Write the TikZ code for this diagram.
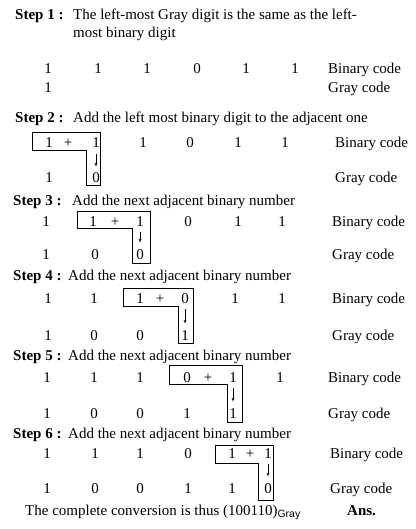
\documentclass[tikz,border=0pt]{standalone}
\usepackage{fontspec}
\setmainfont{Liberation Serif}
\setsansfont{Liberation Sans}
\usetikzlibrary{arrows}
\tikzstyle{dig}  = [inner sep=0pt, anchor=base]
\tikzstyle{txt}  = [inner sep=0pt, anchor=base west]
\tikzstyle{hd}   = [txt, font=\fontsize{15}{18}\selectfont\bfseries]
\tikzstyle{lbox} = [draw, line width=0.7pt]
\tikzstyle{dn}   = [draw, -latex', shorten >=6pt, shorten <=6pt]

\begin{document}
\begin{tikzpicture}[x=1pt, y=-1pt, font=\fontsize{15}{18}\selectfont]
\useasboundingbox (0,0) rectangle (415,529);

% step 1
\node [hd]  at (15,20) (h1)  {Step 1 :};
\node [txt] at (73,20) (t1)  {The left-most Gray digit is the same as the left-};
\node [txt] at (73,38) (t1b) {most binary digit};
\foreach \x/\d [count=\i] in {48/1, 98/1, 147/1, 197/0, 246/1, 295/1}
  \node [dig] at (\x,74) (b1-\i) {\d};
\node [dig] at (48,93) (g1-1) {1};
\node [txt] at (328,74) (bin1)  {Binary code};
\node [txt] at (328,93) (gray1) {Gray code};

% step 2
\node [hd]  at (15,123) (h2) {Step 2 :};
\node [txt] at (73,123) (t2) {Add the left most binary digit to the adjacent one};
\foreach \x/\d [count=\i] in {49/1, 96/1, 143/1, 190/0, 238/1, 285/1}
  \node [dig] at (\x,148) (b2-\i) {\d};
\node [dig] at (68,148) (p2) {+};
\foreach \x/\d [count=\i] in {49/1, 96/0}
  \node [dig] at (\x,183) (g2-\i) {\d};
\node [txt] at (335,148) (bin2)  {Binary code};
\node [txt] at (335,183) (gray2) {Gray code};
\draw [lbox] (32,132) -- (100,132) -- (100,185) -- (86,185) -- (86,150) -- (32,150) -- cycle;
\path [dn] (b2-2) -- (g2-2);

% step 3
\node [hd]  at (13,205) (h3) {Step 3 :};
\node [txt] at (72,205) (t3) {Add the next adjacent binary number};
\foreach \x/\d [count=\i] in {46/1, 93/1, 140/1, 188/0, 238/1, 282/1}
  \node [dig] at (\x,226) (b3-\i) {\d};
\node [dig] at (115,226) (p3) {+};
\foreach \x/\d [count=\i] in {46/1, 95/0, 140/0}
  \node [dig] at (\x,259) (g3-\i) {\d};
\node [txt] at (332,226) (bin3)  {Binary code};
\node [txt] at (332,259) (gray3) {Gray code};
\draw [lbox] (77,211) -- (150,211) -- (150,263) -- (132,263) -- (132,228) -- (77,228) -- cycle;
\path [dn] (b3-3) -- (g3-3);

% step 4
\node [hd]  at (13,280) (h4) {Step 4 :};
\node [txt] at (68,280) (t4) {Add the next adjacent binary number};
\foreach \x/\d [count=\i] in {48/1, 94/1, 140/1, 185/0, 235/1, 282/1}
  \node [dig] at (\x,303) (b4-\i) {\d};
\node [dig] at (160,303) (p4) {+};
\foreach \x/\d [count=\i] in {48/1, 94/0, 140/0, 185/1}
  \node [dig] at (\x,340) (g4-\i) {\d};
\node [txt] at (332,303) (bin4)  {Binary code};
\node [txt] at (332,340) (gray4) {Gray code};
\draw [lbox] (123,288) -- (193,288) -- (193,343) -- (178,343) -- (178,306) -- (123,306) -- cycle;
\path [dn] (b4-4) -- (g4-4);

% step 5
\node [hd]  at (13,360) (h5) {Step 5 :};
\node [txt] at (68,360) (t5) {Add the next adjacent binary number};
\foreach \x/\d [count=\i] in {47/1, 94/1, 140/1, 187/0, 233/1, 280/1}
  \node [dig] at (\x,382) (b5-\i) {\d};
\node [dig] at (208,382) (p5) {+};
\foreach \x/\d [count=\i] in {47/1, 94/0, 140/0, 187/1, 233/1}
  \node [dig] at (\x,418) (g5-\i) {\d};
\node [txt] at (328,382) (bin5)  {Binary code};
\node [txt] at (328,418) (gray5) {Gray code};
\draw [lbox] (169,365) -- (242,365) -- (242,422) -- (227,422) -- (227,384) -- (169,384) -- cycle;
\path [dn] (b5-5) -- (g5-5);

% step 6
\node [hd]  at (13,438) (h6) {Step 6 :};
\node [txt] at (68,438) (t6) {Add the next adjacent binary number};
\foreach \x/\d [count=\i] in {47/1, 95/1, 140/1, 188/0, 232/1, 268/1}
  \node [dig] at (\x,458) (b6-\i) {\d};
\node [dig] at (250,458) (p6) {+};
\foreach \x/\d [count=\i] in {47/1, 95/0, 140/0, 188/1, 232/1, 268/0}
  \node [dig] at (\x,493) (g6-\i) {\d};
\node [txt] at (330,458) (bin6)  {Binary code};
\node [txt] at (330,493) (gray6) {Gray code};
\draw [lbox] (215,445) -- (273,445) -- (273,500) -- (258,500) -- (258,463) -- (215,463) -- cycle;
\path [dn] (b6-6) -- (g6-6);

% result
\node [txt] at (25,515)  (res) {The complete conversion is thus (100110)\textsubscript{\sffamily Gray}};
\node [hd]  at (347,515) (ans) {Ans.};

\end{tikzpicture}
\end{document}
